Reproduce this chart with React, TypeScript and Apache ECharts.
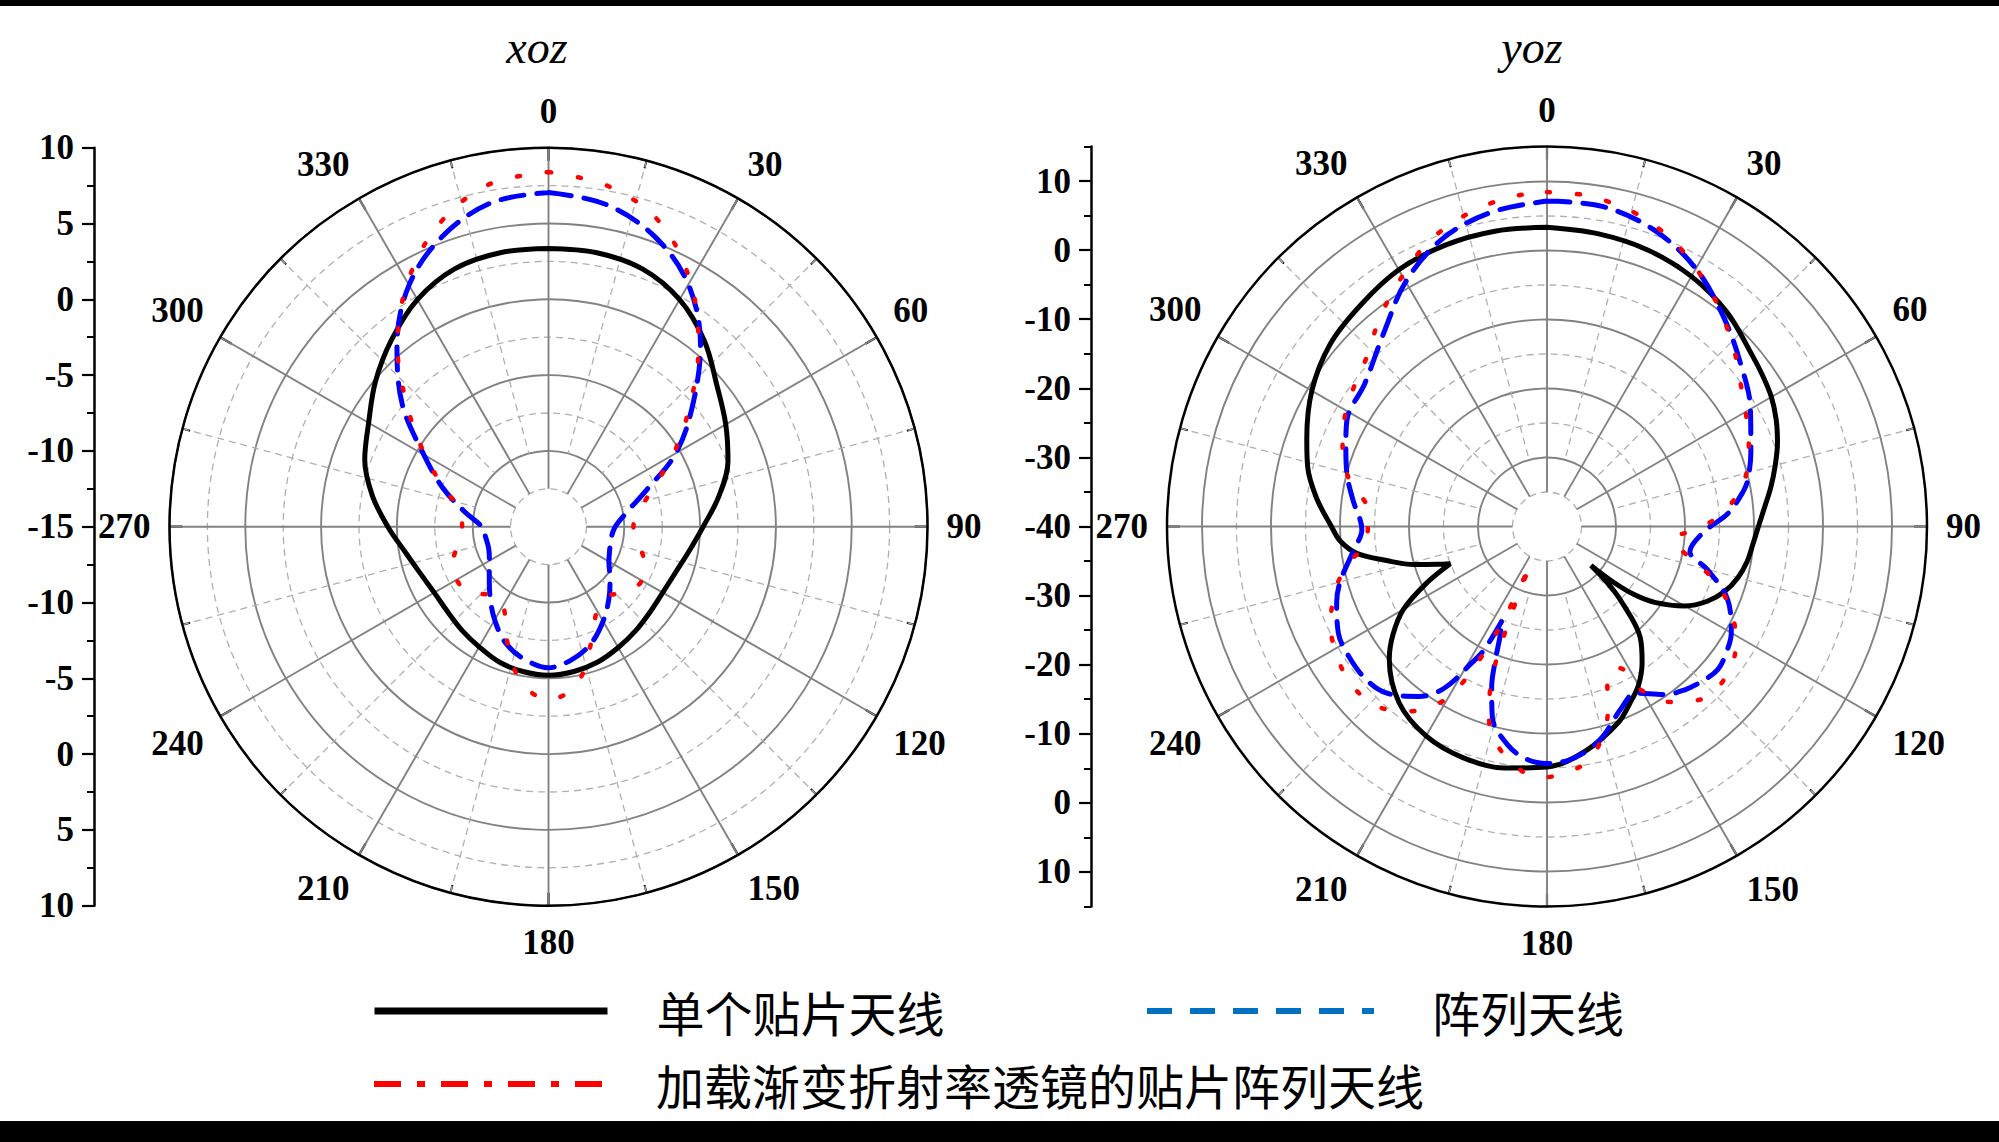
import React, { useEffect, useRef } from 'react';
import * as echarts from 'echarts';

// ---- data: [angle (deg), gain (dB)] ----
const xozSingle: number[][] = [
  [0, 3.35], [10, 3.35], [20, 3.1], [30, 2.3], [40, 1.0], [50, -0.5], [60, -1.5], [70, -2.4], [80, -3.6],
  [90, -4.8], [100, -5.6], [110, -6.1], [120, -6.3], [130, -6.25], [140, -6.05], [150, -5.8], [160, -5.5],
  [170, -5.3], [180, -5.2], [190, -5.3], [200, -5.5], [210, -5.85], [220, -6.1], [230, -6.3], [240, -6.3],
  [250, -6.0], [260, -5.4], [270, -4.4], [280, -3.2], [290, -2.1], [300, -1.3], [310, -0.1], [320, 1.1],
  [330, 2.3], [340, 3.1], [350, 3.35], [360, 3.35],
];
const xozArray: number[][] = [
  [0, 7.05], [10, 6.6], [20, 5.4], [30, 3.45], [40, 0.6], [50, -2.6], [60, -5.3], [70, -8.2], [80, -9.8],
  [90, -10.6], [100, -10.8], [110, -10.7], [120, -10.4], [130, -9.7], [140, -8.8], [150, -7.8], [160, -6.8],
  [170, -6.1], [180, -5.7], [190, -6.1], [200, -6.8], [210, -7.9], [220, -9.0], [230, -9.9], [240, -10.5],
  [250, -10.8], [260, -10.8], [270, -10.6], [280, -9.4], [290, -7.6], [300, -5.5], [310, -2.4], [320, 0.55],
  [330, 3.4], [340, 5.4], [350, 6.7], [360, 7.05],
];
const xozLens: number[][] = [
  [0, 8.4], [10, 7.8], [20, 6.4], [30, 3.7], [40, 0.4], [50, -2.9], [60, -5.5], [70, -7.7], [80, -8.9],
  [90, -9.4], [100, -9.0], [110, -8.3], [120, -7.9], [130, -8.3], [140, -9.0], [150, -8.6], [160, -6.8],
  [170, -4.4], [180, -3.6], [190, -4.6], [200, -7.0], [210, -9.0], [220, -9.1], [230, -8.2], [240, -8.0],
  [250, -8.3], [260, -9.0], [270, -9.3], [280, -9.1], [290, -7.7], [300, -5.6], [310, -2.9], [320, 0.5],
  [330, 3.6], [340, 6.2], [350, 7.9], [360, 8.4],
];
const yozSingle: number[][] = [
  [0, 3.3], [10, 3.0], [20, 2.6], [30, 1.8], [40, 0.5], [50, -1.3], [55, -1.9], [60, -2.5], [65, -3.4],
  [70, -4.5], [75, -5.8], [80, -7.1], [85, -8.4], [90, -9.4], [95, -10.1], [100, -10.6], [105, -11.4],
  [110, -12.6], [115, -14.4], [120, -17.0], [125, -20.8], [128, -24.0], [130, -27.5], [131.5, -31.5],
  [133, -28.0], [135, -25.0], [140, -19.0], [145, -16.0], [150, -13.5], [155, -11.7], [160, -9.8],
  [170, -7.1], [180, -5.2], [190, -4.5], [200, -4.4], [210, -5.0], [220, -6.7], [230, -10.2], [235, -12.8],
  [240, -16.0], [245, -20.9], [249, -25.0], [251, -23.2], [254, -20.0], [258, -16.3], [262, -12.2],
  [266, -10.0], [270, -8.8], [277, -6.4], [284, -4.3], [290, -3.0], [300, -0.7], [310, 1.0], [320, 1.9],
  [330, 2.9], [340, 3.3], [350, 3.4], [360, 3.3],
];
const yozArray: number[][] = [
  [0, 7.1], [10, 7.0], [20, 5.6], [30, 3.1], [40, -0.3], [50, -3.4], [60, -6.0], [70, -8.6], [77, -10.2],
  [80, -11.2], [86, -13.8], [92, -17.3], [100, -19.0], [105, -16.0], [112, -11.8], [120, -9.2], [125, -8.3],
  [130, -7.75], [135, -8.3], [140, -9.1], [145, -10.3], [152, -12.7], [158, -11.5], [165, -8.6], [170, -7.0],
  [175, -6.0], [180, -5.7], [185, -6.2], [190, -7.8], [196, -11.3], [199, -15.4], [201, -19.0], [203, -22.5],
  [205.5, -25.0], [207, -20.0], [209, -17.3], [212.5, -12.2], [217, -9.2], [224, -6.5], [230, -5.7],
  [237, -5.7], [243, -6.1], [250, -7.6], [255, -9.0], [263, -11.8], [269, -13.2], [278, -11.6], [285, -10.0],
  [292, -8.6], [298, -7.2], [308, -6.5], [320, -3.3], [330, 0.9], [340, 4.3], [350, 6.2], [360, 7.1],
];
const yozLens: number[][] = [
  [0, 8.4], [6, 8.3], [11, 7.8], [17, 6.9], [22, 5.65], [28, 3.9], [34, 1.7], [39, 0.0], [47, -2.9],
  [53, -5.0], [60, -6.8], [68, -8.5], [76, -10.4], [83, -13.2], [90, -17.3], [96, -21.6], [103, -18.4],
  [108, -14.4], [115, -10.5], [122, -7.75], [130, -6.2], [138, -6.4], [145, -9.0], [150, -12.6], [153, -17.0],
  [158, -16.8], [161.5, -12.2], [165.5, -8.3], [171, -5.2], [181, -3.7], [185.5, -4.3], [192, -7.1],
  [197, -11.2], [199.5, -15.6], [201, -20.3], [202.5, -28.5], [203.5, -34.0], [204.5, -28.0], [205, -24.5],
  [206.5, -19.6], [208, -15.1], [211, -10.4], [217, -6.5], [223, -4.3], [230, -3.6], [238, -4.2],
  [245.5, -5.6], [253, -7.9], [259, -10.5], [266, -13.9], [275, -14.0], [283, -10.7], [291, -8.3],
  [299, -6.6], [306, -5.5], [314, -4.0], [320, -1.8], [326, 0.4], [332, 2.6], [337, 4.5], [343, 6.1],
  [349, 7.3], [355, 8.1], [360, 8.4],
];

const seriesNames = ['单个贴片天线', '阵列天线', '加载渐变折射率透镜的贴片阵列天线'];
const titles = ['xoz', 'yoz'];
const xozRange = [-15, 10];
const yozRange = [-40, 15];
const yozMajorTicks = [-50, -40, -30, -20, -10, 0, 10, 20, 30, 40, 50];
const yozMinorTicks = [-55, -45, -35, -25, -15, -5, 5, 15, 25, 35, 45, 55];

const SERIF = '"Liberation Serif", "Times New Roman", serif';
const CJK = '"Noto Sans CJK SC", sans-serif';
const GRID_SOLID = '#828282';
const GRID_DASH = '#b0b0b0';

const L = { cx: 548.5, cy: 526.7, r: 379 };
const R = { cx: 1547, cy: 526.5, r: 380 };

const baseAngle = (polarIndex: number) => ({
  polarIndex, type: 'value', min: 0, max: 360, interval: 30, startAngle: 90, clockwise: true,
});
const angleMain = (polarIndex: number) => ({
  ...baseAngle(polarIndex),
  axisLine: { show: true, lineStyle: { color: '#000', width: 2.5 } },
  axisTick: { show: true, inside: true, length: 13, lineStyle: { color: '#000', width: 2.2 } },
  minorTick: { show: true, splitNumber: 2, length: 8, lineStyle: { color: '#000', width: 2 } },
  axisLabel: {
    show: true, margin: 19, color: '#000', fontFamily: SERIF, fontWeight: 'bold', fontSize: 35,
    formatter: (v: number) => (v >= 360 ? '' : String(v)),
  },
  splitLine: { show: false },
  minorSplitLine: { show: false },
});
const angleSpokes = (polarIndex: number) => ({
  ...baseAngle(polarIndex),
  axisLine: { show: false }, axisTick: { show: false }, axisLabel: { show: false },
  minorTick: { show: false }, minorSplitLine: { show: false },
  splitLine: { show: true, lineStyle: { color: GRID_SOLID, width: 1.9 } },
});
const angleMinor = (polarIndex: number) => ({
  ...baseAngle(polarIndex),
  axisLine: { show: false }, axisTick: { show: false }, axisLabel: { show: false },
  minorTick: { show: false, splitNumber: 2 },
  splitLine: { show: false },
  minorSplitLine: { show: true, lineStyle: { color: GRID_DASH, width: 1.3, type: [7, 5] } },
});
const radiusGrid = (polarIndex: number, min: number, max: number, interval: number) => ({
  polarIndex, type: 'value', min, max, interval,
  axisLine: { show: false }, axisTick: { show: false }, axisLabel: { show: false },
  splitLine: { show: true, lineStyle: { color: GRID_SOLID, width: 1.9 } },
  minorTick: { show: false, splitNumber: 2 },
  minorSplitLine: { show: true, lineStyle: { color: GRID_DASH, width: 1.3, type: [7, 5] } },
});
const radiusHidden = (polarIndex: number, min = 0, max = 1) => ({
  polarIndex, type: 'value', min, max, show: false,
});

const lineStyles = [
  { color: '#000000', width: 5 },
  { color: '#0000ff', width: 5, type: [23, 13], cap: 'round' },
  { color: '#ff0000', width: 4.5, type: [3, 27], cap: 'round' },
];

const mkSeries = (nameIdx: number, data: number[][], polarIndex: number) => ({
  type: 'line', name: seriesNames[nameIdx], coordinateSystem: 'polar', polarIndex,
  data: data.map(([a, v]) => [v, a]),
  symbol: 'none', smooth: 0.35, silent: true,
  lineStyle: lineStyles[nameIdx], itemStyle: { color: lineStyles[nameIdx].color },
  z: 3 + nameIdx,
});

const axisLabelStyle = { color: '#000', fontFamily: SERIF, fontWeight: 'bold', fontSize: 35 };
const legendText = (pad: number) => ({ fontFamily: CJK, fontSize: 48, color: '#000', padding: [0, 0, 0, pad] });
const hiddenSymbol = { color: 'rgba(0,0,0,0)', borderColor: 'rgba(0,0,0,0)', borderWidth: 0 };

const option: any = {
  animation: false,
  backgroundColor: '#ffffff',
  title: [
    { text: titles[0], left: 537, top: 24, padding: 0, textAlign: 'center',
      textStyle: { fontFamily: SERIF, fontStyle: 'italic', fontWeight: 'normal', fontSize: 46, color: '#000' } },
    { text: titles[1], left: 1532, top: 24, padding: 0, textAlign: 'center',
      textStyle: { fontFamily: SERIF, fontStyle: 'italic', fontWeight: 'normal', fontSize: 46, color: '#000' } },
  ],
  polar: [
    { center: [L.cx, L.cy], radius: [0, L.r] },
    { center: [L.cx, L.cy], radius: [37.9, L.r] },
    { center: [L.cx, L.cy], radius: [75.8, L.r] },
    { center: [R.cx, R.cy], radius: [0, R.r] },
    { center: [R.cx, R.cy], radius: [0, 345] },
    { center: [R.cx, R.cy], radius: [34.5, R.r] },
    { center: [R.cx, R.cy], radius: [69, R.r] },
  ],
  angleAxis: [
    angleMain(0), angleSpokes(1), angleMinor(2),
    angleMain(3), { ...baseAngle(4), show: false }, angleSpokes(5), angleMinor(6),
  ],
  radiusAxis: [
    radiusGrid(0, xozRange[0], xozRange[1], 5), radiusHidden(1), radiusHidden(2),
    radiusHidden(3, yozRange[0], yozRange[1]), radiusGrid(4, -40, 10, 10), radiusHidden(5), radiusHidden(6),
  ],
  grid: [
    { left: 94, top: L.cy - L.r, width: 20, height: 2 * L.r },
    { left: 1091, top: R.cy - R.r, width: 20, height: 2 * R.r },
  ],
  xAxis: [
    { gridIndex: 0, type: 'value', show: false },
    { gridIndex: 1, type: 'value', show: false },
  ],
  yAxis: [
    {
      gridIndex: 0, type: 'value', position: 'left', min: -25, max: 25, interval: 5,
      axisLine: { show: true, lineStyle: { color: '#000', width: 2.5 } },
      axisTick: { show: true, length: 12, lineStyle: { color: '#000', width: 2.2 } },
      minorTick: { show: true, splitNumber: 2, length: 7, lineStyle: { color: '#000', width: 2 } },
      axisLabel: { ...axisLabelStyle, margin: 20, formatter: (v: number) => String(xozRange[0] + Math.abs(v)) },
      splitLine: { show: false },
    },
    {
      gridIndex: 1, type: 'value', position: 'left', min: -55, max: 55,
      axisLine: { show: true, lineStyle: { color: '#000', width: 2.5 } },
      axisTick: { show: true, length: 12, customValues: yozMajorTicks, lineStyle: { color: '#000', width: 2.2 } },
      axisLabel: { ...axisLabelStyle, margin: 20, customValues: yozMajorTicks,
        formatter: (v: number) => String(yozRange[0] + Math.abs(v)) },
      splitLine: { show: false },
    },
    {
      gridIndex: 1, type: 'value', position: 'left', min: -55, max: 55,
      axisLine: { show: false },
      axisTick: { show: true, length: 7, customValues: yozMinorTicks, lineStyle: { color: '#000', width: 2 } },
      axisLabel: { show: false },
      splitLine: { show: false },
    },
  ],
  legend: [
    { data: [seriesNames[0]], left: 371, top: 987, padding: 0, itemWidth: 233, itemHeight: 14,
      selectedMode: false, textStyle: legendText(44), itemStyle: hiddenSymbol,
      lineStyle: { color: '#000', width: 7, type: 'solid' } },
    { data: [seriesNames[1]], left: 1144, top: 987, padding: 0, itemWidth: 227, itemHeight: 14,
      selectedMode: false, textStyle: legendText(53), itemStyle: hiddenSymbol,
      lineStyle: { color: '#0070c0', width: 6, type: [25, 18], cap: 'butt' } },
    { data: [seriesNames[2]], left: 371, top: 1060, padding: 0, itemWidth: 233, itemHeight: 14,
      selectedMode: false, textStyle: legendText(44), itemStyle: hiddenSymbol,
      lineStyle: { color: '#ff0000', width: 6, type: [27, 16, 8, 16], cap: 'butt' } },
  ],
  series: [
    mkSeries(0, xozSingle, 0), mkSeries(1, xozArray, 0), mkSeries(2, xozLens, 0),
    mkSeries(0, yozSingle, 3), mkSeries(1, yozArray, 3), mkSeries(2, yozLens, 3),
  ],
  graphic: [
    { type: 'rect', left: 0, top: 0, shape: { width: 1999, height: 6 }, style: { fill: '#000' }, silent: true },
    { type: 'rect', left: 0, top: 1121, shape: { width: 1999, height: 21 }, style: { fill: '#000' }, silent: true },
  ],
};

export default function App() {
  const ref = useRef<HTMLDivElement>(null);
  useEffect(() => {
    if (!ref.current) return;
    const chart = echarts.init(ref.current, null, { renderer: 'svg' });
    chart.setOption(option);
    return () => chart.dispose();
  }, []);
  return (
    <div
      ref={ref}
      style={{ position: 'fixed', left: 0, top: 0, width: 1999, height: 1142, background: '#fff' }}
    />
  );
}
